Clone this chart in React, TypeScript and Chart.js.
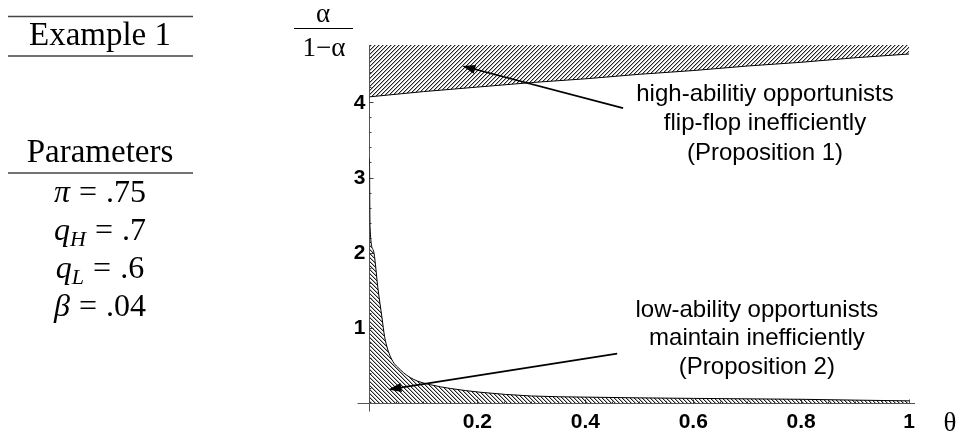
import React, { useEffect, useRef } from "react";
import { Chart, registerables } from "chart.js";

Chart.register(...registerables);

// ---- data ----
const thetaTop = [0, 0.1, 0.2, 0.3, 0.4, 0.5, 0.6, 0.7, 0.8, 0.9, 1.0];
const boundTop = [4.08, 4.15, 4.21, 4.27, 4.32, 4.38, 4.43, 4.49, 4.54, 4.6, 4.65];

const thetaLow = [0, 0.001, 0.007, 0.016, 0.023, 0.028, 0.039, 0.057, 0.082, 0.113, 0.15, 0.205, 0.3, 0.4, 0.5, 0.6, 0.7, 0.8, 0.9, 1.0];
const boundLow = [3.26, 2.35, 2.04, 1.51, 1.15, 0.89, 0.62, 0.45, 0.32, 0.25, 0.2, 0.15, 0.1, 0.085, 0.075, 0.068, 0.062, 0.056, 0.045, 0.035];

const xTicks = [0.2, 0.4, 0.6, 0.8, 1];
const xTickLabels = ["0.2", "0.4", "0.6", "0.8", "1"];
const yTicks = [1, 2, 3, 4];
const yTickLabels = ["1", "2", "3", "4"];

const topNote = ["high-abilitiy opportunists", "flip-flop inefficiently", "(Proposition 1)"];
const lowNote = ["low-ability opportunists", "maintain inefficiently", "(Proposition 2)"];
// annotation anchors in data units: [theta, value]
const topNoteAnchor = [0.733, 4.03];
const lowNoteAnchor = [0.718, 1.156];
const topArrow = [[0.47, 3.93], [0.172, 4.49]];
const lowArrow = [[0.459, 0.664], [0.035, 0.186]];

const panelTitle = "Example 1";
const paramHeader = "Parameters";
const paramSymbols = ["π", "q", "q", "β"];
const paramSubs = ["", "H", "L", ""];
const paramValues = [".75", ".7", ".6", ".04"];

const yTitleNum = "α";
const yTitleDen = "1−α";
const xTitle = "θ";

const X_MAX = 1.011;
const Y_MAX = 4.77;

function makeHatch(dir: number): CanvasPattern | string {
  const c = document.createElement("canvas");
  c.width = 4;
  c.height = 4;
  const g = c.getContext("2d");
  if (!g) return "#888";
  for (let i = 0; i < 4; i++) {
    const yy = dir > 0 ? 3 - i : i;
    g.fillStyle = "#222";
    g.fillRect(i, yy, 1, 1);
    g.fillStyle = "rgba(0,0,0,0.3)";
    g.fillRect((i + 1) % 4, yy, 1, 1);
  }
  return g.createPattern(c, "repeat") || "#888";
}

function drawArrow(ctx: CanvasRenderingContext2D, x1: number, y1: number, x2: number, y2: number) {
  const ang = Math.atan2(y2 - y1, x2 - x1);
  const L = 13;
  const W = 4.5;
  const c = Math.cos(ang);
  const s = Math.sin(ang);
  ctx.strokeStyle = "#000";
  ctx.fillStyle = "#000";
  ctx.lineWidth = 1.6;
  ctx.beginPath();
  ctx.moveTo(x1, y1);
  ctx.lineTo(x2 - L * 0.7 * c, y2 - L * 0.7 * s);
  ctx.stroke();
  ctx.beginPath();
  ctx.moveTo(x2, y2);
  ctx.lineTo(x2 - L * c + W * s, y2 - L * s - W * c);
  ctx.lineTo(x2 - L * c - W * s, y2 - L * s + W * c);
  ctx.closePath();
  ctx.fill();
}

type Seg = { t: string; font: string; dy?: number; gap?: number };
function drawRow(ctx: CanvasRenderingContext2D, segs: Seg[], cx: number, base: number) {
  let w = 0;
  segs.forEach((s) => {
    ctx.font = s.font;
    w += ctx.measureText(s.t).width + (s.gap || 0);
  });
  let xx = cx - w / 2;
  ctx.textAlign = "left";
  ctx.textBaseline = "alphabetic";
  segs.forEach((s) => {
    ctx.font = s.font;
    ctx.fillText(s.t, xx, base + (s.dy || 0));
    xx += ctx.measureText(s.t).width + (s.gap || 0);
  });
}

const overlay = {
  id: "overlay",
  beforeDatasetsDraw(chart: any) {
    const ctx: CanvasRenderingContext2D = chart.ctx;
    const xs = chart.scales.x;
    const ys = chart.scales.y;
    const x0 = Math.floor(xs.getPixelForValue(0)) + 0.5;
    const y0 = Math.floor(ys.getPixelForValue(0)) + 0.5;
    ctx.save();
    // axes
    ctx.strokeStyle = "#555";
    ctx.lineWidth = 1;
    ctx.beginPath();
    ctx.moveTo(x0 - 12, y0);
    ctx.lineTo(xs.right, y0);
    ctx.moveTo(x0, ys.top);
    ctx.lineTo(x0, y0 + 8);
    ctx.stroke();
    // small inward tick marks
    ctx.strokeStyle = "#444";
    ctx.beginPath();
    for (let i = 1; i <= 20; i++) {
      const v = i * 0.05;
      const px = Math.floor(xs.getPixelForValue(v)) + 0.5;
      const len = i % 4 === 0 ? 4 : 2;
      ctx.moveTo(px, y0);
      ctx.lineTo(px, y0 - len);
    }
    for (let i = 1; i <= 23; i++) {
      const v = i * 0.2;
      const py = Math.floor(ys.getPixelForValue(v)) + 0.5;
      const len = i % 5 === 0 ? 4 : 2;
      ctx.moveTo(x0, py);
      ctx.lineTo(x0 + len, py);
    }
    ctx.stroke();
    ctx.restore();
  },
  afterDraw(chart: any) {
    const ctx: CanvasRenderingContext2D = chart.ctx;
    const xs = chart.scales.x;
    const ys = chart.scales.y;
    const P = (p: number[]) => [xs.getPixelForValue(p[0]), ys.getPixelForValue(p[1])];
    ctx.save();
    ctx.fillStyle = "#000";

    // annotations
    ctx.font = "24px 'Liberation Sans', Arial, sans-serif";
    ctx.textAlign = "center";
    ctx.textBaseline = "alphabetic";
    const [tx, ty] = P(topNoteAnchor);
    topNote.forEach((s, i) => ctx.fillText(s, tx, ty + i * 29.5));
    const [lx, ly] = P(lowNoteAnchor);
    lowNote.forEach((s, i) => ctx.fillText(s, lx, ly + i * 28.5));
    const a1 = P(topArrow[0]);
    const a2 = P(topArrow[1]);
    drawArrow(ctx, a1[0], a1[1], a2[0], a2[1]);
    const b1 = P(lowArrow[0]);
    const b2 = P(lowArrow[1]);
    drawArrow(ctx, b1[0], b1[1], b2[0], b2[1]);

    // y-axis title as a fraction
    ctx.fillStyle = "#000";
    ctx.font = "27px 'Liberation Serif', serif";
    ctx.textAlign = "center";
    ctx.fillText(yTitleNum, 323, 22);
    ctx.fillText(yTitleDen, 324, 56);
    ctx.strokeStyle = "#000";
    ctx.lineWidth = 1.2;
    ctx.beginPath();
    ctx.moveTo(294, 28.5);
    ctx.lineTo(353, 28.5);
    ctx.stroke();

    // x-axis title
    ctx.font = "27px 'Liberation Serif', serif";
    ctx.fillText(xTitle, 950, 431);

    // left panel
    ctx.strokeStyle = "#444";
    ctx.lineWidth = 1.5;
    ctx.beginPath();
    ctx.moveTo(8, 16.5);
    ctx.lineTo(193, 16.5);
    ctx.moveTo(8, 56);
    ctx.lineTo(193, 56);
    ctx.moveTo(8, 173);
    ctx.lineTo(193, 173);
    ctx.stroke();
    ctx.font = "33px 'Liberation Serif', serif";
    ctx.textAlign = "center";
    ctx.fillText(panelTitle, 100, 45);
    ctx.fillText(paramHeader, 100, 162);
    const main = "32px 'Liberation Serif', serif";
    const ital = "italic 32px 'Liberation Serif', serif";
    const sub = "italic 22px 'Liberation Serif', serif";
    paramSymbols.forEach((sym, i) => {
      const segs: Seg[] = [{ t: sym, font: ital }];
      if (paramSubs[i]) segs.push({ t: paramSubs[i], font: sub, dy: 6 });
      segs[segs.length - 1].gap = 9;
      segs.push({ t: "=", font: main, gap: 9 });
      segs.push({ t: paramValues[i], font: main });
      drawRow(ctx, segs, 100, 202 + i * 38);
    });
    ctx.restore();
  },
};

export default function App() {
  const ref = useRef<HTMLCanvasElement>(null);
  useEffect(() => {
    const canvas = ref.current;
    if (!canvas) return;
    const topPts = thetaTop.map((t, i) => ({ x: t, y: boundTop[i] }));
    const lowPts = thetaLow.map((t, i) => ({ x: t, y: boundLow[i] }));
    const tickFont = { family: "'Liberation Sans', Arial, sans-serif", size: 21, weight: "bold" as const };
    const chart = new Chart(canvas, {
      type: "line",
      data: {
        datasets: [
          {
            data: topPts,
            borderColor: "#000",
            borderWidth: 1,
            backgroundColor: makeHatch(1) as any,
            fill: "end",
            pointRadius: 0,
            tension: 0,
          },
          {
            data: lowPts,
            borderColor: "#000",
            borderWidth: 1,
            backgroundColor: makeHatch(-1) as any,
            fill: "origin",
            pointRadius: 0,
            cubicInterpolationMode: "monotone",
          },
        ],
      },
      options: {
        animation: false,
        responsive: false,
        maintainAspectRatio: false,
        layout: { padding: { left: 0, right: 60, top: 45, bottom: 0 } },
        plugins: { legend: { display: false }, tooltip: { enabled: false } },
        scales: {
          x: {
            type: "linear",
            min: 0,
            max: X_MAX,
            afterFit: (s: any) => {
              s.height = 40.5;
            },
            afterBuildTicks: (s: any) => {
              s.ticks = xTicks.map((v) => ({ value: v }));
            },
            grid: { display: true, drawOnChartArea: false, drawTicks: false, tickLength: 0 },
            border: { display: false },
            ticks: {
              padding: 6,
              color: "#000",
              font: tickFont,
              maxRotation: 0,
              autoSkip: false,
              callback: (v: any) => {
                const i = xTicks.findIndex((t) => Math.abs(t - Number(v)) < 1e-6);
                return i >= 0 ? xTickLabels[i] : "";
              },
            },
          },
          y: {
            type: "linear",
            min: 0,
            max: Y_MAX,
            afterFit: (s: any) => {
              s.width = 369.5;
            },
            afterBuildTicks: (s: any) => {
              s.ticks = yTicks.map((v) => ({ value: v }));
            },
            grid: { display: true, drawOnChartArea: false, drawTicks: false, tickLength: 0 },
            border: { display: false },
            ticks: {
              padding: 4,
              color: "#000",
              font: tickFont,
              autoSkip: false,
              callback: (v: any) => {
                const i = yTicks.findIndex((t) => Math.abs(t - Number(v)) < 1e-6);
                return i >= 0 ? yTickLabels[i] : "";
              },
            },
          },
        },
      },
      plugins: [overlay],
    });
    return () => chart.destroy();
  }, []);
  return (
    <div style={{ position: "absolute", left: 0, top: 0, width: 975, height: 444, background: "#fff" }}>
      <canvas ref={ref} width={975} height={444} style={{ display: "block", width: 975, height: 444 }} />
    </div>
  );
}
